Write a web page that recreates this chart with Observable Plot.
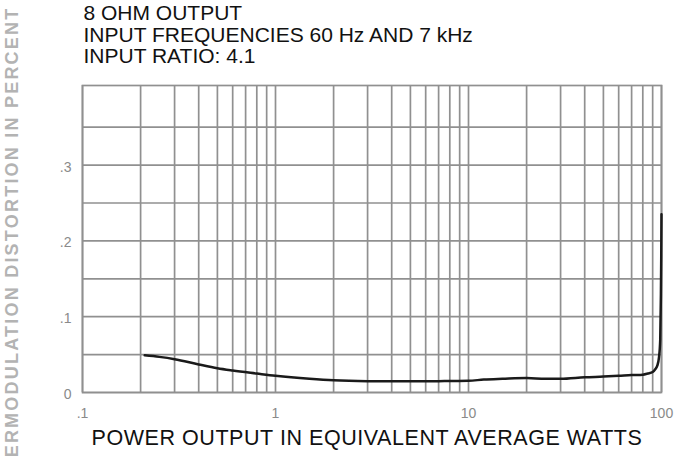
<!DOCTYPE html>
<html><head><meta charset="utf-8">
<script src="https://cdn.jsdelivr.net/npm/d3@7"></script>
<script src="https://cdn.jsdelivr.net/npm/@observablehq/plot@0.6"></script>
<style>body{margin:0;background:#fff;} svg{display:block;}</style>
</head><body><div id="chart"></div>
<script>
const titleLines = ["8 OHM OUTPUT", "INPUT FREQUENCIES 60 Hz AND 7 kHz", "INPUT RATIO: 4.1"];
const xLabel = "POWER OUTPUT IN EQUIVALENT AVERAGE WATTS";
const yLabel = "INTERMODULATION DISTORTION IN PERCENT";
const xTickValues = [0.1, 1, 10, 100];
const xTickLabels = [".1", "1", "10", "100"];
const yTickValues = [0, 0.1, 0.2, 0.3];
const yTickLabels = ["0", ".1", ".2", ".3"];
const xGridValues = [0.1,0.2,0.3,0.4,0.5,0.6,0.7,0.8,0.9,1,2,3,4,5,6,7,8,9,10,20,30,40,50,60,70,80,90,100];
const yGridValues = [0, 0.05, 0.1, 0.15, 0.2, 0.25, 0.3, 0.35];
const watts = [0.21, 0.25, 0.3, 0.4, 0.5, 0.6, 0.8, 1, 1.5, 2, 3, 5, 7, 10, 12, 15, 20, 25, 30, 40, 50, 60, 70, 80, 85, 90, 93, 95, 97, 98.5, 99.3, 99.7, 100];
const distortion = [0.049, 0.047, 0.044, 0.037, 0.032, 0.029, 0.025, 0.022, 0.018, 0.016, 0.015, 0.0148, 0.015, 0.0155, 0.017, 0.018, 0.019, 0.018, 0.018, 0.020, 0.021, 0.022, 0.023, 0.0235, 0.025, 0.027, 0.031, 0.035, 0.046, 0.07, 0.13, 0.18, 0.235];

const data = watts.map((w, i) => ({w, d: distortion[i]}));
const gridColor = "#909090";

const chart = Plot.plot({
  width: 678, height: 456,
  marginLeft: 82, marginRight: 17, marginTop: 85, marginBottom: 64,
  x: {type: "log", domain: [0.1, 100], axis: null},
  y: {domain: [0, 0.405], axis: null},
  style: {background: "#fff", fontFamily: "'Liberation Sans', Arial, sans-serif"},
  marks: [
    Plot.ruleX(xGridValues, {x: d => d, stroke: gridColor, strokeWidth: 1.7}),
    Plot.ruleY(yGridValues, {y: d => d, stroke: gridColor, strokeWidth: 1.7}),
    Plot.frame({stroke: gridColor, strokeWidth: 1.7}),
    Plot.line(data, {x: "w", y: "d", stroke: "#1a1a1a", strokeWidth: 2.5, curve: "monotone-x"}),
    Plot.text(xTickValues, {x: d => d, frameAnchor: "bottom", text: (d, i) => xTickLabels[i], lineAnchor: "top", dy: 16, fontSize: 14, fill: "#8a8a8a"}),
    Plot.text(yTickValues, {y: d => d, frameAnchor: "left", text: (d, i) => yTickLabels[i], textAnchor: "end", dx: -11, dy: 2, fontSize: 14, fill: "#8a8a8a"}),
    Plot.text([titleLines.join("\n")], {frameAnchor: "top-left", textAnchor: "start", lineAnchor: "top", lineHeight: 1.035, dx: 1, dy: -81, fontSize: 21, fill: "#111"}),
    Plot.text([xLabel], {frameAnchor: "bottom", textAnchor: "middle", lineAnchor: "middle", dx: -5, dy: 45.5, fontSize: 21.5, fill: "#111"}),
    Plot.text([yLabel], {frameAnchor: "top-left", textAnchor: "end", lineAnchor: "middle", rotate: -90, dx: -70, dy: -79, fontSize: 18, fontWeight: "bold", fill: "#b3b3b3"})
  ]
});
d3.select(chart).selectAll("text").filter(function() { return this.textContent === yLabel; }).style("letter-spacing", "2.22px");
d3.select(chart).selectAll("text").filter(function() { return this.textContent === xLabel; }).style("letter-spacing", "0.55px");
document.getElementById("chart").appendChild(chart);
</script>
</body></html>
